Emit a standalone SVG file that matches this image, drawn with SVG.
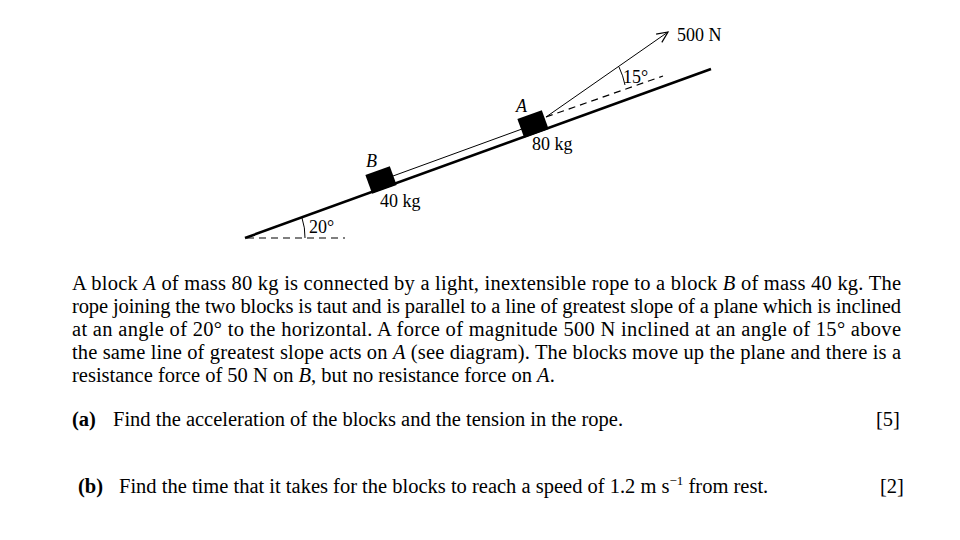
<svg xmlns="http://www.w3.org/2000/svg" width="960" height="540" viewBox="0 0 960 540">
<style>
text{font-family:"Liberation Serif","Times New Roman",serif;font-size:20.5px;fill:#000}
.s{font-size:18px}
.d{stroke:#000;stroke-width:1.2;stroke-dasharray:7,5;fill:none}
.t{stroke:#000;stroke-width:1;fill:none}
</style>
<defs><marker id="ar" markerWidth="14" markerHeight="14" refX="12" refY="6" orient="auto" markerUnits="userSpaceOnUse"><path d="M1,1 L12,6 L1,11" fill="none" stroke="#000" stroke-width="1.2"/></marker></defs>
<rect width="960" height="540" fill="#fff"/>
<g id="plane">
<line x1="245" y1="238" x2="711" y2="69" stroke="#000" stroke-width="2.6"/>
<line x1="247" y1="238" x2="345" y2="238" class="d"/>
<path d="M305,238 A60,60 0 0 0 302,218" class="t"/>
<text class="s" x="309" y="233">20°</text>
</g>
<g id="connectors">
<line x1="393" y1="176" x2="522" y2="129" class="t"/>
<line x1="546" y1="117" x2="668" y2="32" class="t" marker-end="url(#ar)"/>
<line x1="546" y1="117" x2="663" y2="76" class="d" stroke-width="1"/>
<path d="M619,67 A75,75 0 0 1 625,85" class="t"/>
</g>
<g id="B">
<rect x="-13" y="-10" width="26" height="20" transform="translate(381,180) rotate(-20)" fill="#000"/>
<text x="366" y="167" font-style="italic" class="s">B</text>
<text x="380" y="207" class="s">40 kg</text>
</g>
<g id="A">
<rect x="-13" y="-10" width="26" height="20" transform="translate(533,124) rotate(-20)" fill="#000"/>
<text x="516" y="112" font-style="italic" class="s">A</text>
<text x="532" y="150" class="s">80 kg</text>
</g>
<g id="force"><text class="s" x="677" y="41">500 N</text><text class="s" x="623" y="83">15°</text></g>
<g id="text">
<text x="72" y="290" textLength="829" lengthAdjust="spacing">A block <tspan font-style="italic">A</tspan> of mass 80 kg is connected by a light, inextensible rope to a block <tspan font-style="italic">B</tspan> of mass 40 kg. The</text>
<text x="72" y="313" textLength="829" lengthAdjust="spacing">rope joining the two blocks is taut and is parallel to a line of greatest slope of a plane which is inclined</text>
<text x="72" y="336" textLength="829" lengthAdjust="spacing">at an angle of 20° to the horizontal. A force of magnitude 500 N inclined at an angle of 15° above</text>
<text x="72" y="359" textLength="829" lengthAdjust="spacing">the same line of greatest slope acts on <tspan font-style="italic">A</tspan> (see diagram). The blocks move up the plane and there is a</text>
<text x="72" y="382">resistance force of 50 N on <tspan font-style="italic">B</tspan>, but no resistance force on <tspan font-style="italic">A</tspan>.</text>
<text x="72" y="426" font-weight="bold">(a)</text>
<text x="113" y="426">Find the acceleration of the blocks and the tension in the rope.</text>
<text x="876" y="426">[5]</text>
<text x="78" y="493" font-weight="bold">(b)</text>
<text x="119" y="493">Find the time that it takes for the blocks to reach a speed of 1.2 m s<tspan dy="-8" font-size="13">−1</tspan><tspan dy="8"> from rest.</tspan></text>
<text x="880" y="493">[2]</text>
</g>
</svg>
